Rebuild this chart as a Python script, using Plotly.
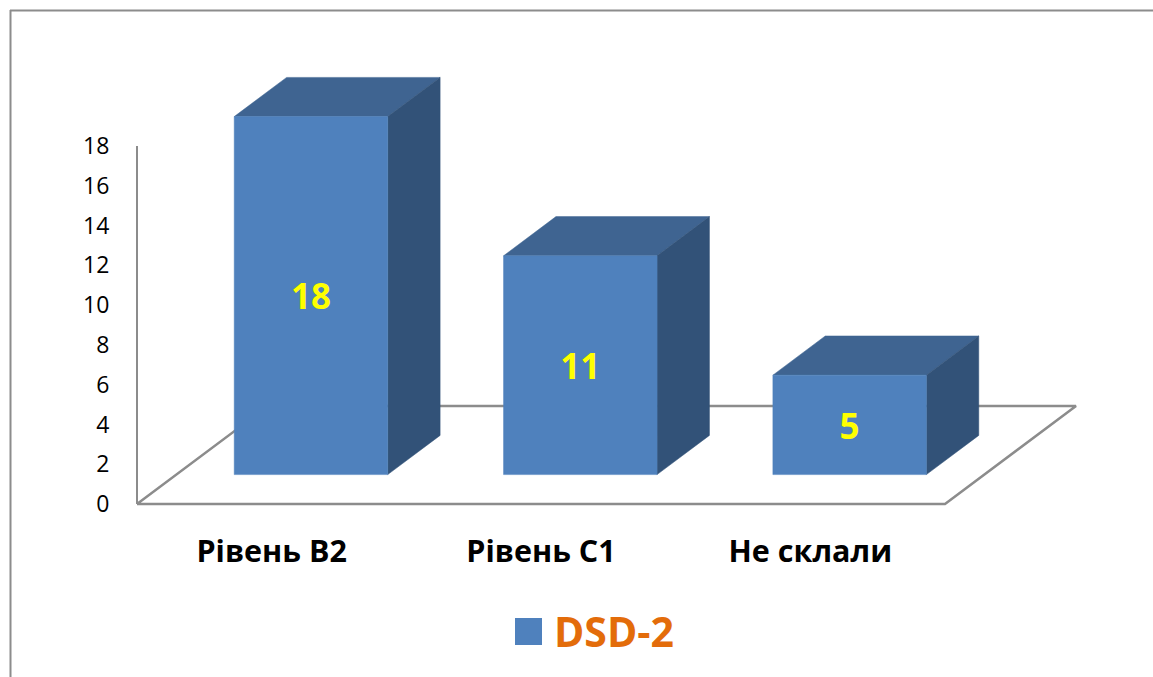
import plotly.graph_objects as go

categories = ["Рівень В2", "Рівень С1", "Не склали"]
values = [18, 11, 5]
series_name = "DSD-2"
y_ticks = [0, 2, 4, 6, 8, 10, 12, 14, 16, 18]

FRONT = "#4F81BD"
TOP = "#3F6491"
SIDE = "#325278"
GRID = "#8C8C8C"
FONT = "Open Sans"

W, H = 1153, 677
X0_PX, Y0_PX = 137, 504  # pixel position of the axes' origin
L, R, T, B = 125, 1100, 60, 516  # plot area, a little larger than the floor
PX_X = 808 / 3          # pixels per category
PX_Y = 358 / 18         # pixels per unit
DEPTH_X = 131 / PX_X    # floor depth in axis units
DEPTH_Y = 98 / PX_Y
BAR_W = 153.5 / PX_X
D0, D1 = 0.3, 0.7       # bar position within floor depth
LABEL_DROP = 5 / PX_Y


def paper_x(px):
    return (px - L) / (R - L)


def paper_y(px):
    return (B - px) / (B - T)


def poly(x, y, color, name):
    return go.Scatter(x=x, y=y, mode="lines", fill="toself", fillcolor=color,
                      line=dict(color=color, width=0.5), showlegend=False,
                      hoverinfo="skip", name=name)


fig = go.Figure()

# floor
fig.add_trace(go.Scatter(
    x=[0, 3, 3 + DEPTH_X, DEPTH_X, 0],
    y=[0, 0, DEPTH_Y, DEPTH_Y, 0],
    mode="lines", line=dict(color=GRID, width=2.5), showlegend=False,
    hoverinfo="skip"))
# value axis line
fig.add_trace(go.Scatter(
    x=[0, 0], y=[0, max(y_ticks)], mode="lines",
    line=dict(color=GRID, width=2), showlegend=False,
    hoverinfo="skip"))

for i, v in enumerate(values):
    c = i + 0.5 + D0 * DEPTH_X
    xl, xr = c - BAR_W / 2, c + BAR_W / 2
    y0 = D0 * DEPTH_Y
    y1 = y0 + v
    dx = (D1 - D0) * DEPTH_X
    dy = (D1 - D0) * DEPTH_Y
    fig.add_trace(poly([xl, xr, xr + dx, xl + dx, xl],
                       [y1, y1, y1 + dy, y1 + dy, y1], TOP, "top"))
    fig.add_trace(poly([xr, xr + dx, xr + dx, xr, xr],
                       [y0, y0 + dy, y1 + dy, y1, y0], SIDE, "side"))
    fig.add_trace(poly([xl, xr, xr, xl, xl],
                       [y0, y0, y1, y1, y0], FRONT, series_name))
    fig.add_trace(go.Scatter(
        x=[c], y=[y0 + v / 2 - LABEL_DROP], mode="text", text=[str(v)],
        textposition="middle center", showlegend=False, hoverinfo="skip",
        textfont=dict(family=FONT, size=35, color="#FFFF00", weight="bold")))

fig.update_layout(
    width=W, height=H,
    autosize=False,
    margin=dict(l=L, r=W - R, t=T, b=H - B, pad=0),
    paper_bgcolor="white", plot_bgcolor="rgba(0,0,0,0)",
    showlegend=False,
    xaxis=dict(
        range=[(L - X0_PX) / PX_X, (R - X0_PX) / PX_X], tickmode="array",
        tickvals=[i + 0.5 for i in range(len(categories))], ticktext=categories,
        showgrid=False, zeroline=False, showline=False, automargin=False,
        ticks="outside", ticklen=8, tickcolor="rgba(0,0,0,0)",
        tickfont=dict(family=FONT, size=30.5, color="#000000", weight="bold"),
    ),
    yaxis=dict(
        range=[(Y0_PX - B) / PX_Y, (Y0_PX - T) / PX_Y], tickmode="array",
        tickvals=y_ticks, ticktext=[str(t) for t in y_ticks],
        showgrid=False, zeroline=False, showline=False, automargin=False,
        ticks="outside", ticklen=10, tickcolor="rgba(0,0,0,0)",
        tickfont=dict(family=FONT, size=23, color="#000000"),
    ),
    shapes=[
        # outer chart border (runs off the right and bottom of the picture)
        dict(type="line", xref="paper", yref="paper", layer="below",
             x0=paper_x(10), x1=paper_x(W), y0=paper_y(10.5), y1=paper_y(10.5),
             line=dict(color=GRID, width=2)),
        dict(type="line", xref="paper", yref="paper", layer="below",
             x0=paper_x(10.5), x1=paper_x(10.5), y0=paper_y(10), y1=paper_y(H),
             line=dict(color=GRID, width=2)),
        # legend key
        dict(type="rect", xref="paper", yref="paper",
             x0=paper_x(515), x1=paper_x(542), y0=paper_y(618), y1=paper_y(645),
             fillcolor=FRONT, line=dict(width=0)),
    ],
    annotations=[
        dict(text=series_name, xref="paper", yref="paper",
             x=paper_x(552), y=paper_y(631),
             xanchor="left", yanchor="middle", showarrow=False,
             font=dict(family=FONT, size=41, color="#E36C0A", weight="bold")),
    ],
)

fig.write_html(
    "out.html",
    config={"displayModeBar": False},
    post_script="document.body.style.margin='0';document.documentElement.style.overflow='hidden';",
)
